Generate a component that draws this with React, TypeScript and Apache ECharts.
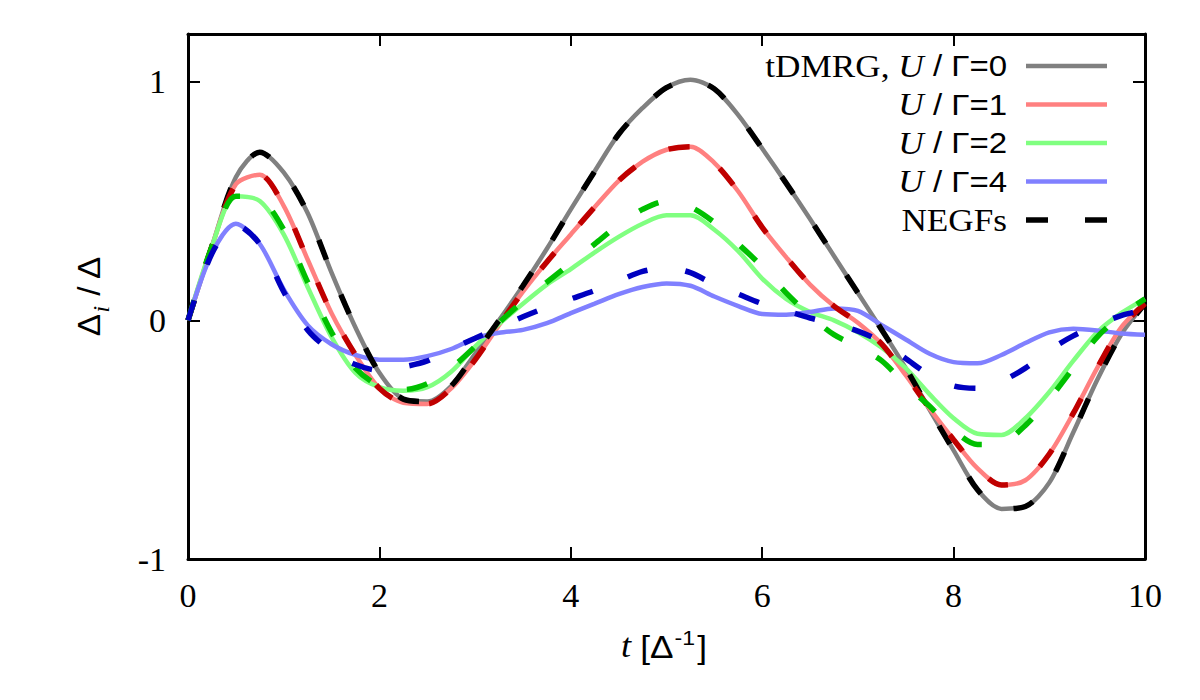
import React, { useEffect, useRef } from "react";
import * as echarts from "echarts";

// time axis t [Δ^-1]
const tValues = [
  0, 0.25, 0.5, 0.75, 1, 1.25, 1.5, 1.75, 2, 2.25, 2.5, 2.75, 3, 3.25, 3.5, 3.75, 4, 4.25, 4.5, 4.75, 5,
  5.25, 5.5, 5.75, 6, 6.25, 6.5, 6.75, 7, 7.25, 7.5, 7.75, 8, 8.25, 8.5, 8.75, 9, 9.25, 9.5, 9.75, 10,
];

// tDMRG (solid)
const dmrgU0 = [
  0, 0.31, 0.6, 0.705, 0.62, 0.45, 0.2, -0.03, -0.22, -0.33, -0.34, -0.275, -0.14, 0.0, 0.145, 0.3, 0.465,
  0.625, 0.78, 0.89, 0.975, 1.008, 0.97, 0.86, 0.72, 0.575, 0.425, 0.27, 0.115, -0.04, -0.2, -0.375, -0.545,
  -0.71, -0.79, -0.78, -0.68, -0.47, -0.25, -0.06, 0.07,
];
const dmrgU1 = [
  0, 0.31, 0.57, 0.61, 0.48, 0.255, 0.03, -0.145, -0.285, -0.345, -0.35, -0.285, -0.165, -0.02, 0.12, 0.245,
  0.36, 0.475, 0.585, 0.665, 0.715, 0.728, 0.66, 0.54, 0.39, 0.265, 0.15, 0.06, -0.01, -0.1, -0.23, -0.37,
  -0.5, -0.62, -0.69, -0.67, -0.56, -0.39, -0.2, -0.03, 0.07,
];
const dmrgU2 = [
  0, 0.31, 0.52, 0.5, 0.36, 0.14, -0.07, -0.22, -0.28, -0.295, -0.28, -0.215, -0.11, -0.015, 0.07, 0.15,
  0.215, 0.285, 0.35, 0.405, 0.44, 0.44, 0.38, 0.29, 0.175, 0.09, 0.035, 0.0, -0.05, -0.115, -0.2, -0.31,
  -0.41, -0.475, -0.48, -0.41, -0.3, -0.17, -0.05, 0.03, 0.09,
];
const dmrgU4 = [
  0, 0.28, 0.405, 0.32, 0.13, -0.02, -0.1, -0.145, -0.165, -0.165, -0.15, -0.12, -0.075, -0.052, -0.04, -0.012,
  0.03, 0.07, 0.11, 0.14, 0.155, 0.145, 0.1, 0.06, 0.027, 0.024, 0.035, 0.05, 0.04, -0.02, -0.08, -0.14,
  -0.175, -0.18, -0.145, -0.095, -0.05, -0.035, -0.042, -0.055, -0.06,
];

// NEGFs (dashed)
const negfU0 = [
  0, 0.31, 0.6, 0.705, 0.62, 0.45, 0.2, -0.03, -0.22, -0.33, -0.34, -0.275, -0.14, 0.0, 0.145, 0.3, 0.465,
  0.625, 0.78, 0.89, 0.975, 1.008, 0.97, 0.86, 0.72, 0.575, 0.425, 0.27, 0.115, -0.04, -0.2, -0.375, -0.545,
  -0.71, -0.79, -0.78, -0.68, -0.47, -0.25, -0.06, 0.07,
];
const negfU1 = [
  0, 0.31, 0.57, 0.61, 0.48, 0.255, 0.03, -0.145, -0.285, -0.345, -0.35, -0.285, -0.165, -0.02, 0.12, 0.245,
  0.36, 0.475, 0.585, 0.665, 0.715, 0.728, 0.66, 0.54, 0.39, 0.265, 0.15, 0.06, -0.01, -0.1, -0.23, -0.37,
  -0.5, -0.62, -0.69, -0.67, -0.56, -0.39, -0.2, -0.03, 0.07,
];
const negfU2 = [
  0, 0.31, 0.52, 0.51, 0.38, 0.16, -0.05, -0.2, -0.275, -0.29, -0.265, -0.2, -0.11, -0.01, 0.08, 0.16,
  0.24, 0.32, 0.4, 0.465, 0.5, 0.475, 0.41, 0.32, 0.225, 0.115, 0.02, -0.06, -0.11, -0.17, -0.27, -0.36,
  -0.46, -0.52, -0.515, -0.44, -0.33, -0.2, -0.07, 0.02, 0.09,
];
const negfU4 = [
  0, 0.28, 0.4, 0.32, 0.12, -0.04, -0.13, -0.185, -0.21, -0.195, -0.17, -0.12, -0.075, -0.03, 0.015, 0.055,
  0.09, 0.125, 0.165, 0.205, 0.22, 0.2, 0.15, 0.11, 0.07, 0.04, 0.01, -0.015, -0.045, -0.09, -0.16, -0.23,
  -0.275, -0.285, -0.255, -0.2, -0.125, -0.065, -0.02, 0.02, 0.045,
];

const xTicks = [0, 2, 4, 6, 8, 10];
const yTicks = [-1, 0, 1];

const legendRows = [
  { pre: "tDMRG, ", u: "U", post: " / Γ=0", color: "#808080", dash: false },
  { pre: "", u: "U", post: " / Γ=1", color: "#ff8080", dash: false },
  { pre: "", u: "U", post: " / Γ=2", color: "#80ff80", dash: false },
  { pre: "", u: "U", post: " / Γ=4", color: "#8080ff", dash: false },
  { pre: "NEGFs", u: "", post: "", color: "#000000", dash: true },
];

const SERIF = "'Liberation Serif', 'Times New Roman', serif";
const SANS = "'Liberation Sans', Arial, Helvetica, sans-serif";

function pairs(vals: number[]) {
  return tValues.map((t, i) => [t, vals[i]]);
}

export default function App() {
  const ref = useRef<HTMLDivElement>(null);
  useEffect(() => {
    document.body.style.margin = "0";
    const chart = echarts.init(ref.current!, undefined, { renderer: "svg" });

    const solid = (name: string, vals: number[], color: string) => ({
      name,
      type: "line",
      data: pairs(vals),
      smooth: 0.3,
      showSymbol: false,
      xAxisIndex: 0,
      yAxisIndex: 0,
      lineStyle: { color, width: 4.5 },
      z: 2,
    });
    const dashed = (name: string, vals: number[], color: string) => ({
      name,
      type: "line",
      data: pairs(vals),
      smooth: 0.3,
      showSymbol: false,
      xAxisIndex: 0,
      yAxisIndex: 0,
      lineStyle: { color, width: 5.5, type: [21, 38], cap: "butt" },
      z: 3,
    });

    const axisCommon = {
      axisLine: { show: true, onZero: false, lineStyle: { color: "#000", width: 3 } },
      axisTick: { show: true, inside: true, length: 12, lineStyle: { color: "#000", width: 2 } },
      splitLine: { show: false },
    };

    const legendGraphics: any[] = [];
    const rowY0 = 66;
    const rowStep = 38.5;
    legendRows.forEach((r, i) => {
      const y = rowY0 + i * rowStep;
      const parts: string[] = [];
      if (r.pre) parts.push(`{s|${r.pre}}`);
      if (r.u) parts.push(`{i|${r.u}}`);
      if (r.post) parts.push(`{a|${r.post}}`);
      legendGraphics.push({
        type: "text",
        x: 1007,
        y,
        scaleX: 1.1,
        style: {
          text: parts.join(""),
          align: "right",
          verticalAlign: "middle",
          rich: {
            s: { fontFamily: SERIF, fontSize: 32, fill: "#000" },
            i: { fontFamily: SERIF, fontStyle: "italic", fontSize: 32, fill: "#000" },
            a: { fontFamily: SANS, fontSize: 30, fill: "#000" },
          },
        },
        z: 10,
      });
      legendGraphics.push({
        type: "line",
        shape: { x1: 1026, y1: y, x2: 1107, y2: y },
        style: r.dash
          ? { stroke: r.color, lineWidth: 5.5, lineDash: [22, 37] }
          : { stroke: r.color, lineWidth: 4.5 },
        z: 10,
      });
    });

    chart.setOption({
      animation: false,
      backgroundColor: "#ffffff",
      grid: { left: 188, right: 55, top: 34, bottom: 141, containLabel: false },
      xAxis: [
        {
          type: "value",
          position: "bottom",
          min: 0,
          max: 10,
          interval: 2,
          ...axisCommon,
          axisLabel: {
            show: true,
            margin: 19,
            fontFamily: SERIF,
            fontSize: 34,
            color: "#000",
            formatter: (v: number) => (xTicks.includes(v) ? String(v) : ""),
          },
        },
        {
          type: "value",
          position: "top",
          min: 0,
          max: 10,
          interval: 2,
          ...axisCommon,
          axisLabel: { show: false },
        },
      ],
      yAxis: [
        {
          type: "value",
          position: "left",
          min: -1,
          max: 1.2,
          interval: 1,
          ...axisCommon,
          axisLabel: {
            show: true,
            margin: 22,
            fontFamily: SERIF,
            fontSize: 34,
            color: "#000",
            formatter: (v: number) => (yTicks.includes(v) ? String(v) : ""),
          },
        },
        {
          type: "value",
          position: "right",
          min: -1,
          max: 1.2,
          interval: 1,
          ...axisCommon,
          axisLabel: { show: false },
        },
      ],
      series: [
        solid("tDMRG U/Γ=0", dmrgU0, "#808080"),
        solid("tDMRG U/Γ=1", dmrgU1, "#ff8080"),
        solid("tDMRG U/Γ=2", dmrgU2, "#80ff80"),
        solid("tDMRG U/Γ=4", dmrgU4, "#8080ff"),
        dashed("NEGFs U/Γ=0", negfU0, "#000000"),
        dashed("NEGFs U/Γ=1", negfU1, "#c00000"),
        dashed("NEGFs U/Γ=2", negfU2, "#00c000"),
        dashed("NEGFs U/Γ=4", negfU4, "#0000c0"),
      ],
      graphic: [
        ...legendGraphics,
        {
          type: "text",
          x: 664,
          y: 645,
          scaleX: 1.1,
          style: {
            text: "{t|t }{b|[Δ}{p|-1}{b|]}",
            align: "center",
            verticalAlign: "middle",
            rich: {
              t: { fontFamily: SERIF, fontStyle: "italic", fontSize: 33, fill: "#000", verticalAlign: "bottom", lineHeight: 36 },
              b: { fontFamily: SANS, fontSize: 32, fill: "#000", verticalAlign: "bottom", lineHeight: 36 },
              p: { fontFamily: SANS, fontSize: 21, fill: "#000", verticalAlign: "top", lineHeight: 21, padding: [0, 2, 16, 1] },
            },
          },
        },
        {
          type: "text",
          x: 90,
          y: 296,
          rotation: Math.PI / 2,
          scaleX: 1.08,
          style: {
            text: "{d|Δ}{i|i}{d| / Δ}",
            align: "center",
            verticalAlign: "middle",
            rich: {
              d: { fontFamily: SANS, fontSize: 31, fill: "#000", verticalAlign: "top", lineHeight: 33 },
              i: { fontFamily: SERIF, fontStyle: "italic", fontSize: 23, fill: "#000", verticalAlign: "top", lineHeight: 23, padding: [16, 0, 0, 1] },
            },
          },
        },
      ],
    });
    return () => chart.dispose();
  }, []);
  return (
    <div
      ref={ref}
      style={{ position: "absolute", left: 0, top: 0, width: 1200, height: 700, background: "#fff" }}
    />
  );
}
